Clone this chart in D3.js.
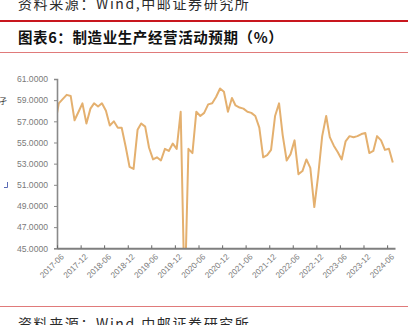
<!DOCTYPE html>
<html>
<head>
<meta charset="utf-8">
<script src="https://cdn.jsdelivr.net/npm/d3@7"></script>
<style>
    html, body { margin: 0; padding: 0; background: #fff; }
    svg { display: block; }
</style>
</head>
<body>
<div id="chart"></div>
<script>
// Monthly index, first value is 2017-05 (sits left of the axis start and is clipped).
const firstMonth = "2017-05";
const values = [
    56.6, 58.7, 59.1, 59.5, 59.4, 57.1, 57.9, 58.7,
    56.8, 58.2, 58.7, 58.4, 58.7, 58.0, 56.6, 57.0, 56.4, 56.4, 54.6, 52.7,
    52.5, 56.2, 56.8, 56.5, 54.5, 53.4, 53.6, 53.3, 54.4, 54.2, 54.9, 54.4,
    57.9, 40.0, 54.4, 54.0, 57.9, 57.5, 57.8, 58.6, 58.7, 59.3, 60.1, 59.8,
    57.9, 59.2, 58.5, 58.3, 58.2, 57.9, 57.8, 57.5, 56.4, 53.6, 53.8, 54.3,
    57.5, 58.7, 55.7, 53.3, 53.9, 55.2, 52.0, 52.3, 53.4, 52.6, 48.9, 51.9,
    55.6, 57.5, 55.5, 54.7, 54.1, 53.4, 55.1, 55.6, 55.5, 55.6, 55.8, 55.9,
    54.0, 54.2, 55.6, 55.2, 54.3, 54.4, 53.1
];
const xTickLabels = [
    "2017-06", "2017-12", "2018-06", "2018-12", "2019-06", "2019-12", "2020-06",
    "2020-12", "2021-06", "2021-12", "2022-06", "2022-12", "2023-06", "2023-12", "2024-06"
];
const yTicks = [45, 47, 49, 51, 53, 55, 57, 59, 61];
const axisEnd = "2024-08";

const sourceText = "资料来源：Wind,中邮证券研究所";
const titleText = "图表6：制造业生产经营活动预期（%）";

const width = 415;
const height = 325;
const parseMonth = d3.timeParse("%Y-%m");

// Points sit mid-month, ticks at the start of the month.
const start = parseMonth(firstMonth);
const data = values.map(function(v, i) {
    let d = d3.timeMonth.offset(start, i);
    return { date: d3.timeDay.offset(d, 14), value: v };
});

const svg = d3.select("#chart").append("svg")
    .attr("width", width)
    .attr("height", height);

// Header and footer text with the red rules.
function addSource(y) {
    svg.append("text")
        .attr("x", 18)
        .attr("y", y)
        .attr("font-family", "Noto Sans CJK SC")
        .attr("font-size", 14)
        .attr("letter-spacing", 1.6)
        .attr("fill", "#2b2b2b")
        .text(sourceText);
}
addSource(9);
addSource(329);

svg.append("line")
    .attr("x1", 0).attr("x2", 408)
    .attr("y1", 21).attr("y2", 21)
    .attr("stroke", "#c8171e")
    .attr("stroke-width", 2);

svg.append("text")
    .attr("x", 18)
    .attr("y", 43)
    .attr("font-family", "Noto Sans CJK SC")
    .attr("font-size", 14.5)
    .attr("font-weight", "bold")
    .attr("letter-spacing", 0.6)
    .attr("fill", "#111")
    .text(titleText);

svg.append("line")
    .attr("x1", 0).attr("x2", 408)
    .attr("y1", 52.5).attr("y2", 52.5)
    .attr("stroke", "#e07a7a")
    .attr("stroke-width", 1.2);

svg.append("line")
    .attr("x1", 0).attr("x2", 408)
    .attr("y1", 306.5).attr("y2", 306.5)
    .attr("stroke", "#e07a7a")
    .attr("stroke-width", 1.2);

// Scraps of neighbouring page content at the left edge.
svg.append("text")
    .attr("x", -1).attr("y", 104)
    .attr("font-family", "Noto Sans CJK SC")
    .attr("font-size", 8)
    .attr("fill", "#333")
    .text("孑");
svg.append("path")
    .attr("d", "M7.5,182 V187.5 H4")
    .attr("fill", "none")
    .attr("stroke", "#5b6bb5")
    .attr("stroke-width", 1);

// Plot area.
const plot = { left: 57, right: 395, top: 79, bottom: 248.3 };

const x = d3.scaleTime()
    .domain([parseMonth("2017-06"), parseMonth(axisEnd)])
    .range([plot.left, plot.right]);

const y = d3.scaleLinear()
    .domain([45, 61])
    .range([plot.bottom, plot.top]);

svg.append("clipPath")
    .attr("id", "plot-clip")
    .append("rect")
    .attr("x", plot.left)
    .attr("y", plot.top - 5)
    .attr("width", plot.right - plot.left)
    .attr("height", plot.bottom - plot.top + 5);

const line = d3.line()
    .x(function(d) { return x(d.date); })
    .y(function(d) { return y(d.value); });

svg.append("path")
    .datum(data)
    .attr("clip-path", "url(#plot-clip)")
    .attr("fill", "none")
    .attr("stroke", "#e4b06f")
    .attr("stroke-width", 2)
    .attr("stroke-linejoin", "round")
    .attr("d", line);

// Y axis.
const yAxis = svg.append("g")
    .attr("transform", "translate(" + plot.left + ",0)")
    .call(d3.axisLeft(y)
        .tickValues(yTicks)
        .tickFormat(d3.format(".4f"))
        .tickSize(3)
        .tickPadding(6));

yAxis.select(".domain")
    .attr("stroke", "#8a8a8a")
    .attr("stroke-width", 1.6);
yAxis.selectAll(".tick line")
    .attr("stroke", "#8a8a8a");
yAxis.selectAll(".tick text")
    .attr("font-family", "Liberation Sans, Arial, sans-serif")
    .attr("font-size", 8.6)
    .attr("fill", "#7a7a7a");

// X axis, ticks every six months pointing into the plot.
const xTicks = xTickLabels.map(parseMonth);

const xAxis = svg.append("g")
    .attr("transform", "translate(0," + plot.bottom + ")")
    .call(d3.axisBottom(x)
        .tickValues(xTicks)
        .tickFormat(d3.timeFormat("%Y-%m"))
        .tickSizeInner(-3)
        .tickSizeOuter(0));

xAxis.select(".domain")
    .attr("stroke", "#7f7f7f")
    .attr("stroke-width", 2);
xAxis.selectAll(".tick line")
    .attr("stroke", "#666");
xAxis.selectAll(".tick text")
    .attr("font-family", "Liberation Sans, Arial, sans-serif")
    .attr("font-size", 8.2)
    .attr("fill", "#7a7a7a")
    .attr("text-anchor", "end")
    .attr("dy", null)
    .attr("y", null)
    .attr("transform", "translate(7,9) rotate(-45)");
</script>
</body>
</html>
